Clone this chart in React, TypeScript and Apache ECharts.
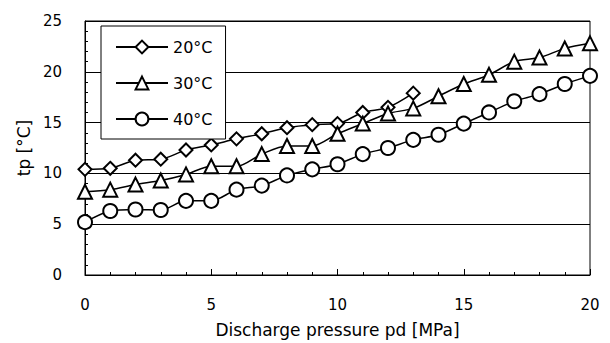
import React, { useEffect, useRef } from "react";
import * as echarts from "echarts";

const pressure = [0, 1, 2, 3, 4, 5, 6, 7, 8, 9, 10, 11, 12, 13, 14, 15, 16, 17, 18, 19, 20];
const t20 = [10.4, 10.5, 11.3, 11.4, 12.3, 12.8, 13.4, 13.9, 14.5, 14.8, 14.9, 16.0, 16.5, 17.9];
const t30 = [8.2, 8.4, 8.9, 9.3, 9.9, 10.7, 10.7, 11.9, 12.7, 12.7, 13.9, 14.9, 15.9, 16.4, 17.6, 18.8, 19.7, 21.0, 21.4, 22.3, 22.8];
const t40 = [5.2, 6.3, 6.45, 6.4, 7.3, 7.3, 8.4, 8.8, 9.8, 10.4, 10.9, 11.9, 12.5, 13.3, 13.8, 14.9, 16.0, 17.1, 17.8, 18.8, 19.6];
const seriesNames = ["20°C", "30°C", "40°C"];
const seriesSymbols = ["emptyDiamond", "emptyTriangle", "emptyCircle"];
const seriesSymbolSizes = [13, 14, 14];
const xAxisName = "Discharge pressure pd [MPa]";
const yAxisName = "tp [°C]";

const FONT = "DejaVu Sans";

export default function App() {
  const ref = useRef<HTMLDivElement>(null);
  useEffect(() => {
    if (!ref.current) return;
    const chart = echarts.init(ref.current, undefined, { renderer: "svg" });
    const values = [t20, t30, t40];
    const series = values.map((vals, i) => ({
      name: seriesNames[i],
      type: "line",
      smooth: 0.3,
      data: vals.map((v, j) => [pressure[j], v]),
      symbol: seriesSymbols[i],
      symbolSize: seriesSymbolSizes[i],
      showAllSymbol: true,
      lineStyle: { color: "#000", width: 1.5 },
      itemStyle: { color: "#000", borderColor: "#000", borderWidth: 1.5 },
      z: 3 + i,
    }));
    chart.setOption({
      animation: false,
      backgroundColor: "#fff",
      textStyle: { fontFamily: FONT, color: "#000" },
      grid: {
        left: 85,
        right: 20,
        top: 21,
        bottom: 65,
        show: true,
        borderColor: "#000",
        borderWidth: 1,
        backgroundColor: "transparent",
      },
      legend: {
        data: seriesNames,
        orient: "vertical",
        left: 101,
        top: 26,
        itemWidth: 52,
        itemHeight: 16,
        itemGap: 20,
        padding: [13, 13, 12, 14],
        backgroundColor: "#fff",
        borderColor: "#000",
        borderWidth: 1,
        textStyle: { fontFamily: FONT, fontSize: 16, color: "#000", padding: [0, 0, 0, 0] },
        z: 10,
      },
      xAxis: {
        type: "value",
        min: 0,
        max: 20,
        interval: 5,
        name: xAxisName,
        nameLocation: "middle",
        nameGap: 46,
        nameTextStyle: { fontFamily: FONT, fontSize: 17, color: "#000" },
        axisLine: { show: true, lineStyle: { color: "#000", width: 1 } },
        axisTick: { show: true, inside: true, length: 6, lineStyle: { color: "#000" } },
        minorTick: { show: true, splitNumber: 5, length: 3, lineStyle: { color: "#000" } },
        axisLabel: { fontFamily: FONT, fontSize: 15, color: "#000", margin: 22 },
        splitLine: { show: false },
      },
      yAxis: {
        type: "value",
        min: 0,
        max: 25,
        interval: 5,
        name: yAxisName,
        nameLocation: "middle",
        nameGap: 52,
        nameTextStyle: { fontFamily: FONT, fontSize: 17, color: "#000" },
        axisLine: { show: true, lineStyle: { color: "#000", width: 1 } },
        axisTick: { show: true, inside: true, length: 5, lineStyle: { color: "#000" } },
        minorTick: { show: true, splitNumber: 5, length: 3, lineStyle: { color: "#000" } },
        axisLabel: { fontFamily: FONT, fontSize: 15, color: "#000", margin: 23 },
        splitLine: { show: true, lineStyle: { color: "#000", width: 1 } },
      },
      series,
    });
    return () => chart.dispose();
  }, []);
  return (
    <div
      ref={ref}
      style={{ position: "fixed", left: 0, top: 0, width: 610, height: 343 }}
    />
  );
}
